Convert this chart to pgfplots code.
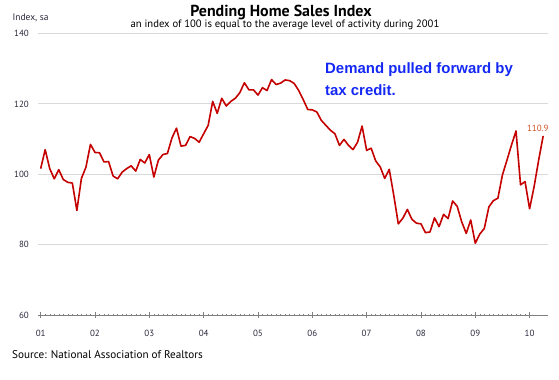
\documentclass[border=0pt]{standalone}
\usepackage{pgfplots}
\pgfplotsset{compat=1.18}
\usepackage{fontspec}
\setmainfont{PT Sans}
\newfontfamily\annotfont{Liberation Sans}
\definecolor{linered}{RGB}{196,0,0}
\definecolor{annblue}{RGB}{20,40,245}
\definecolor{lblred}{RGB}{210,80,40}
\definecolor{gridgray}{RGB}{217,217,217}
\definecolor{axgray}{RGB}{128,128,128}
\definecolor{ticktext}{RGB}{40,40,60}
\begin{document}
\begin{tikzpicture}
\useasboundingbox (0,0) rectangle (559bp,380bp);
\begin{axis}[
  at={(38.4bp,65bp)}, anchor=south west,
  scale only axis, width=509.3bp, height=281.5bp,
  xmin=-0.5, xmax=112, ymin=60, ymax=140,
  ytick={60,80,100,120,140},
  xtick={0,12,24,36,48,60,72,84,96,108},
  xticklabels={01,02,03,04,05,06,07,08,09,10},
  minor x tick num=11,
  ymajorgrids, grid style={gridgray, line width=0.8bp},
  axis x line*=bottom, axis y line*=left,
  y axis line style={draw=none},
  x axis line style={axgray, line width=0.8bp},
  ytick style={draw=none},
  xtick style={axgray, line width=0.6bp},
  minor x tick style={axgray, line width=0.4bp},
  tick align=center, major tick length=6bp, minor tick length=2.5bp,
  /pgf/number format/assume math mode=true,
  tick label style={font=\fontsize{9}{11}\selectfont, text=ticktext},
  yticklabel style={xshift=-3bp},
  xticklabel style={yshift=-9bp},
  clip=false,
]
\addplot[linered, line width=1.6bp, line join=round] table {
x y
0 101.6
1 107.0
2 101.6
3 98.7
4 101.3
5 98.5
6 97.7
7 97.5
8 89.7
9 98.8
10 102.0
11 108.5
12 106.2
13 106.1
14 103.5
15 103.6
16 99.5
17 98.7
18 100.6
19 101.6
20 102.4
21 100.9
22 104.2
23 103.2
24 105.6
25 99.2
26 104.0
27 105.6
28 105.9
29 110.3
30 113.1
31 108.0
32 108.2
33 110.7
34 110.2
35 109.1
36 111.5
37 113.9
38 120.7
39 117.3
40 121.6
41 119.4
42 120.7
43 121.6
44 123.2
45 126.0
46 124.0
47 124.0
48 122.5
49 124.6
50 123.8
51 126.9
52 125.5
53 125.9
54 126.8
55 126.6
56 125.8
57 123.8
58 121.2
59 118.4
60 118.3
61 117.7
62 115.3
63 113.9
64 112.5
65 111.5
66 108.2
67 109.9
68 108.2
69 107.0
70 109.1
71 113.7
72 106.8
73 107.4
74 103.8
75 102.1
76 98.8
77 101.4
78 94.0
79 85.9
80 87.5
81 90.0
82 87.2
83 86.1
84 85.9
85 83.4
86 83.6
87 87.6
88 85.1
89 88.6
90 87.4
91 92.4
92 90.9
93 86.5
94 83.2
95 87.0
96 80.4
97 83.0
98 84.6
99 90.7
100 92.5
101 93.2
102 99.8
103 104.0
104 108.3
105 112.3
106 97.0
107 97.9
108 90.2
109 96.5
110 104.0
111 110.9
};
\node[anchor=south, yshift=4bp, text=lblred, font=\fontsize{9}{11}\selectfont, inner sep=0pt] at (axis cs:109.8,110.9) {110.9};
\end{axis}
\node[font=\fontsize{16}{18}\selectfont\bfseries] at (281bp,367.5bp) {Pending Home Sales Index};
\node[font=\fontsize{10.7}{12}\selectfont] at (285bp,355bp) {an index of 100 is equal to the average level of activity during 2001};
\node[anchor=west, inner sep=0pt, font=\fontsize{9.5}{11}\selectfont, text=ticktext] at (12.5bp,362.5bp) {Index, sa};
\node[anchor=west, inner sep=0pt, font=\fontsize{11.2}{13}\selectfont] at (12bp,25bp) {Source: National Association of Realtors};
\node[anchor=west, inner sep=0pt, text=annblue, font=\annotfont\fontsize{15}{17}\selectfont\bfseries] at (325bp,310bp) {Demand pulled forward by};
\node[anchor=west, inner sep=0pt, text=annblue, font=\annotfont\fontsize{15}{17}\selectfont\bfseries] at (325bp,290bp) {tax credit.};
\end{tikzpicture}
\end{document}
